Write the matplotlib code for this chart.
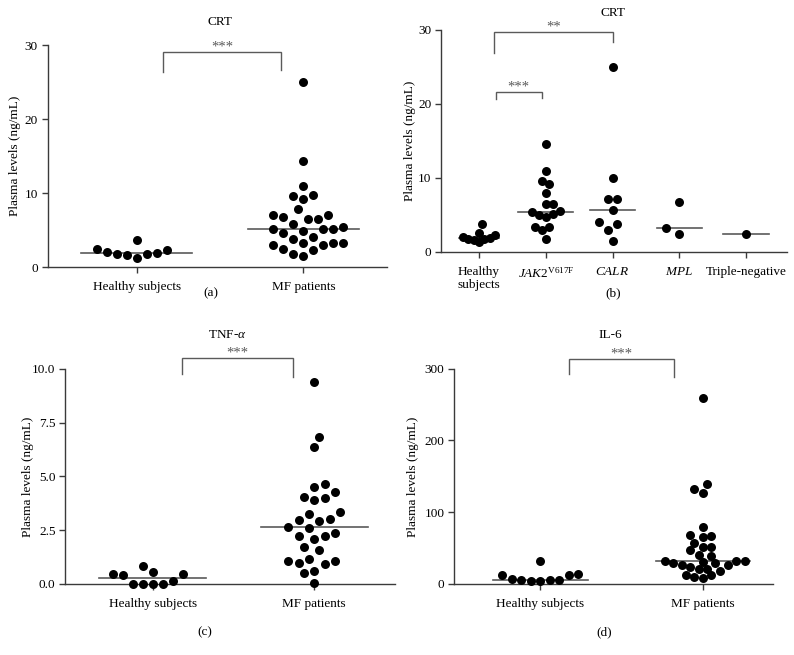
import numpy as np
import matplotlib
matplotlib.use("Agg")
import matplotlib.pyplot as plt

plt.rcParams["font.family"] = ["Liberation Serif", "DejaVu Serif"]
plt.rcParams["mathtext.fontset"] = "custom"
plt.rcParams["mathtext.rm"] = "Liberation Serif"
plt.rcParams["mathtext.it"] = "Liberation Serif:italic"
plt.rcParams["font.size"] = 9.5

# --- data (ng/mL) ---
crt_healthy = [2.3, 1.85, 1.7, 3.7, 2.5, 1.25, 1.6, 1.7, 2.0]
crt_mf = [25.0, 14.4, 10.9, 9.8, 9.6, 9.2, 7.8, 7.1, 7.1, 6.8, 6.5, 6.5, 5.8, 5.4, 5.2,
          5.2, 5.1, 4.9, 4.6, 4.0, 3.8, 3.3, 3.2, 3.2, 3.0, 3.0, 2.5, 2.3, 1.7, 1.5]
crt_jak2 = [14.5, 10.9, 9.6, 9.2, 7.9, 6.5, 6.5, 5.5, 5.3, 5.05, 5.0, 4.65, 3.4, 3.3, 2.95, 1.7]
crt_calr = [25.0, 9.9, 7.1, 7.1, 5.7, 4.0, 3.7, 3.0, 1.45]
crt_mpl = [6.75, 2.4, 3.15]
crt_triple_neg = [2.4]
tnf_healthy = [0.45, 0.15, 0.02, 0.57, 0.85, 0.48, 0.0, 0.02, 0.02, 0.4]
tnf_mf = [9.38, 6.84, 6.35, 4.64, 4.52, 4.29, 4.06, 3.98, 3.9, 3.33, 3.25, 3.02, 2.97, 2.91, 2.66,
          2.59, 2.38, 2.24, 2.23, 2.09, 1.7, 1.58, 1.16, 1.08, 1.08, 0.99, 0.93, 0.62, 0.5, 0.06]
il6_healthy = [12.5, 5.5, 5.5, 14.0, 32.5, 4.0, 12.5, 4.0, 5.5, 7.0]
il6_mf = [258.7, 139.3, 131.9, 127.3, 79.0, 68.3, 66.9, 65.0, 56.7, 52.0, 51.0, 47.4, 40.0, 39.0, 32.5,
          32.5, 32.0, 30.7, 29.7, 28.8, 26.5, 26.0, 24.0, 21.4, 20.4, 18.6, 12.5, 12.0, 10.2, 7.9]

labels_two = ["Healthy subjects", "MF patients"]
labels_mut = ["Healthy\nsubjects", r"$\mathit{JAK2}^{\mathrm{V617F}}$", r"$\mathit{CALR}$",
              r"$\mathit{MPL}$", "Triple-negative"]

W, H = 794, 655
fig = plt.figure(figsize=(W / 100, H / 100), dpi=100)
AX_COL = "#3a3a3a"
LINE_COL = "#5a5a5a"


def px_axes(l, t, r, b):
    return fig.add_axes([l / W, 1 - b / H, (r - l) / W, (b - t) / H])


def style(ax, xlim, ylim, yticks, ylabels, xlabels):
    ax.set_xlim(*xlim)
    ax.set_ylim(*ylim)
    for s in ["top", "right"]:
        ax.spines[s].set_visible(False)
    for s in ["left", "bottom"]:
        ax.spines[s].set_color(AX_COL)
        ax.spines[s].set_linewidth(1.0)
    ax.set_yticks(yticks)
    ax.set_yticklabels(ylabels)
    ax.set_xticks(range(len(xlabels)))
    ax.set_xticklabels(xlabels)
    ax.tick_params(axis="both", color=AX_COL, length=4, width=1.0)
    ax.tick_params(axis="x", pad=6)
    ax.tick_params(axis="y", pad=3)
    ax.set_ylabel("Plasma levels (ng/mL)")


def swarm_x(ax, xc, vals, step=6.5, dist=12.0, maxw=None):
    # simple beeswarm in pixel space, squeezed to maxw pixels either side
    pts = ax.transData.transform([(xc, v) for v in vals])
    ys = pts[:, 1]
    ppu = ax.transData.transform((1, 0))[0] - ax.transData.transform((0, 0))[0]
    offs = np.zeros(len(vals))
    placed = []
    for n, i in enumerate(np.argsort(ys)):
        sign = 1 if n % 2 == 0 else -1
        cands = [0]
        for j in range(1, 60):
            cands += [sign * j, -sign * j]
        for c in cands:
            off = c * step
            if all(np.hypot(off - po, ys[i] - py) >= dist for po, py in placed):
                break
        offs[i] = off
        placed.append((off, ys[i]))
    m = np.abs(offs).max()
    if maxw is not None and m > maxw:
        offs = offs * maxw / m
    return xc + offs / ppu


def dot_group(ax, xc, vals, half, maxw=None, dist=12.0):
    xs = swarm_x(ax, xc, vals, dist=dist, maxw=maxw)
    ax.scatter(xs, vals, s=42, c="black", linewidths=0, clip_on=False, zorder=3)
    med = np.median(vals)
    ax.plot([xc - half, xc + half], [med, med], color=LINE_COL, lw=1.2, zorder=2)


def bracket(ax, x1, x2, y, yl1, yl2, stars):
    ax.plot([x1, x1, x2, x2], [yl1, y, y, yl2], color=LINE_COL, lw=1.0,
            clip_on=False, solid_joinstyle="miter")
    ax.annotate(stars, xy=((x1 + x2) / 2, y), xytext=(0, 1), textcoords="offset points",
                ha="center", va="baseline", color=LINE_COL, fontsize=10.5,
                annotation_clip=False)


def ylabel_at(ax, xpx, l, r):
    ax.yaxis.set_label_coords((xpx - l) / (r - l), 0.5)


# --- (a) CRT ---
ax = px_axes(47.7, 45.3, 386.7, 267)
style(ax, (-0.534, 1.5), (0, 30), [0, 10, 20, 30], ["0", "10", "20", "30"], labels_two)
ylabel_at(ax, 21, 47.7, 386.7)
dot_group(ax, 0, crt_healthy, 0.333, maxw=40)
dot_group(ax, 1, crt_mf, 0.333, maxw=40)
bracket(ax, 0.156, 0.866, 29.05, 26.4, 26.6, "***")
fig.text(220 / W, 1 - 22 / H, "CRT", ha="center", va="center")
fig.text(211 / W, 1 - 293 / H, "(a)", ha="center", va="center")

# --- (b) CRT by mutation ---
ax = px_axes(441, 29.7, 786.7, 251.7)
style(ax, (-0.57, 4.61), (0, 30), [0, 10, 20, 30], ["0", "10", "20", "30"], labels_mut)
ylabel_at(ax, 416, 441, 786.7)
dot_group(ax, 0, crt_healthy, 0.3, maxw=16, dist=9)
dot_group(ax, 1, crt_jak2, 0.41, maxw=14, dist=10)
dot_group(ax, 2, crt_calr, 0.34, maxw=14)
dot_group(ax, 3, crt_mpl, 0.34, maxw=14)
dot_group(ax, 4, crt_triple_neg, 0.34, maxw=14)
bracket(ax, 0.23, 2.0, 29.7, 26.9, 28.4, "**")
bracket(ax, 0.25, 0.94, 21.6, 20.7, 20.8, "***")
fig.text(613 / W, 1 - 13 / H, "CRT", ha="center", va="center")
fig.text(613 / W, 1 - 293 / H, "(b)", ha="center", va="center")

# --- (c) TNF-alpha ---
ax = px_axes(65.3, 368.7, 395, 584)
style(ax, (-0.54, 1.5), (0, 10), [0, 2.5, 5, 7.5, 10],
      ["0.0", "2.5", "5.0", "7.5", "10.0"], labels_two)
ylabel_at(ax, 34, 65.3, 395)
dot_group(ax, 0, tnf_healthy, 0.33, maxw=40)
dot_group(ax, 1, tnf_mf, 0.33, maxw=26)
bracket(ax, 0.18, 0.866, 10.48, 9.74, 9.6, "***")
fig.text(227 / W, 1 - 335 / H, r"TNF-$\mathit{\alpha}$", ha="center", va="center")
fig.text(205 / W, 1 - 632 / H, "(c)", ha="center", va="center")

# --- (d) IL-6 ---
ax = px_axes(454.3, 368.7, 772.7, 584)
style(ax, (-0.53, 1.43), (0, 300), [0, 100, 200, 300],
      ["0", "100", "200", "300"], labels_two)
ylabel_at(ax, 419, 454.3, 772.7)
dot_group(ax, 0, il6_healthy, 0.29, maxw=38, dist=10)
dot_group(ax, 1, il6_mf, 0.29, maxw=42, dist=9)
bracket(ax, 0.174, 0.82, 314, 292, 288, "***")
fig.text(610 / W, 1 - 335 / H, "IL-6", ha="center", va="center")
fig.text(604 / W, 1 - 632 / H, "(d)", ha="center", va="center")

fig.savefig("out.png", dpi=100)
